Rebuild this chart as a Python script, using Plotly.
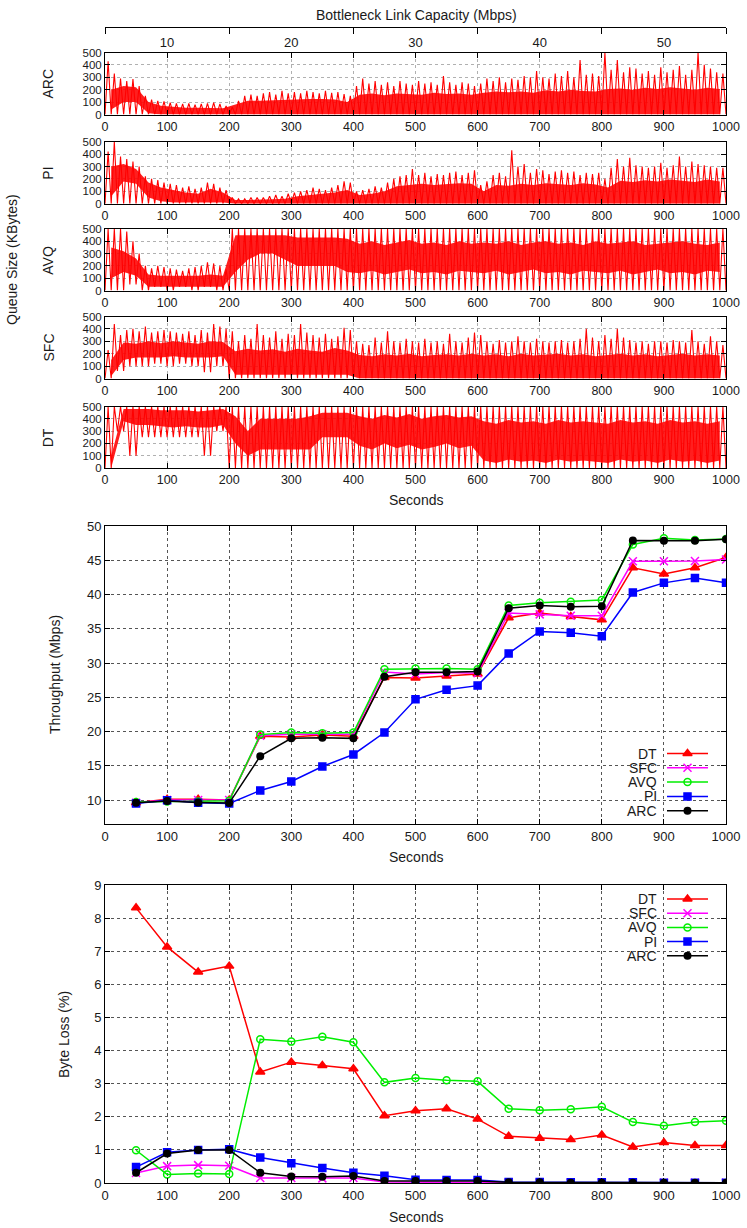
import numpy as np
import plotly.graph_objects as go

# ---------------- data ----------------
seconds = [50, 100, 150, 200, 250, 300, 350, 400, 450, 500,
           550, 600, 650, 700, 750, 800, 850, 900, 950, 1000]

thr_DT  = [9.6, 10.1, 10.1, 10.0, 19.3, 19.2, 19.5, 19.3, 27.9, 27.8, 28.1, 28.4, 36.6, 37.3, 36.8, 36.3, 43.9, 43.0, 43.9, 45.4]
thr_SFC = [9.6, 10.0, 10.0, 10.0, 19.4, 19.6, 19.6, 19.6, 28.7, 28.4, 28.6, 28.5, 37.3, 37.1, 36.9, 36.9, 44.85, 44.85, 44.9, 45.1]
thr_AVQ = [9.7, 9.8, 9.8, 9.9, 19.55, 19.85, 19.75, 19.85, 29.1, 29.2, 29.2, 29.1, 38.4, 38.8, 38.95, 39.2, 47.3, 48.2, 47.95, 48.1]
thr_PI  = [9.5, 9.95, 9.6, 9.5, 11.4, 12.7, 14.9, 16.65, 19.85, 24.7, 26.1, 26.7, 31.4, 34.6, 34.4, 33.9, 40.3, 41.7, 42.4, 41.7]
thr_ARC = [9.6, 9.85, 9.65, 9.55, 16.4, 19.0, 19.1, 19.0, 28.0, 28.65, 28.65, 28.75, 38.0, 38.4, 38.2, 38.3, 47.9, 47.85, 47.85, 48.05]

loss_DT  = [8.31, 7.13, 6.37, 6.55, 3.35, 3.65, 3.55, 3.45, 2.03, 2.18, 2.24, 1.93, 1.41, 1.35, 1.31, 1.45, 1.09, 1.22, 1.13, 1.13]
loss_SFC = [0.30, 0.51, 0.54, 0.52, 0.15, 0.15, 0.14, 0.15, 0.03, 0.02, 0.02, 0.02, 0.01, 0.01, 0.01, 0.01, 0.01, 0.01, 0.01, 0.01]
loss_AVQ = [0.99, 0.26, 0.29, 0.27, 4.34, 4.27, 4.42, 4.25, 3.04, 3.17, 3.10, 3.07, 2.24, 2.20, 2.23, 2.30, 1.84, 1.73, 1.84, 1.88]
loss_PI  = [0.48, 0.93, 1.00, 1.02, 0.77, 0.60, 0.45, 0.31, 0.22, 0.10, 0.09, 0.09, 0.03, 0.03, 0.02, 0.02, 0.02, 0.01, 0.01, 0.01]
loss_ARC = [0.31, 0.89, 1.00, 1.00, 0.31, 0.20, 0.19, 0.21, 0.06, 0.06, 0.06, 0.06, 0.02, 0.02, 0.01, 0.01, 0.01, 0.01, 0.01, 0.01]

capacity_labels = ['10', '20', '30', '40', '50']
capacity_centers = [100, 300, 500, 700, 900]
capacity_bounds = [0, 200, 400, 600, 800, 1000]

# Queue traces (KBytes), read per time bin:
#  *_pk : spike tops per 10 s bin (100 values)
#  *_lo / *_hi : dense band bottom / top per 20 s bin (50 values)
#  *_dn : spike bottoms per 20 s bin (50 values)
ARC_pk = [430, 330, 290, 270, 285, 230, 150, 120, 110, 105,
          95, 90, 85, 90, 80, 85, 90, 95, 85, 70,
          60, 110, 150, 160, 150, 170, 180, 160, 190, 170,
          180, 170, 190, 180, 170, 190, 175, 180, 165, 150,
          230, 290, 250, 270, 240, 260, 230, 270, 250, 240,
          270, 250, 260, 240, 310, 260, 240, 260, 250, 230,
          250, 290, 270, 300, 260, 290, 280, 310, 300, 350,
          300, 290, 330, 310, 350, 300, 440, 320, 330, 310,
          500, 360, 440, 340, 380, 370, 330, 350, 320, 380,
          340, 360, 390, 320, 360, 500, 400, 370, 340, 330]
ARC_lo = [40, 100, 100, 10, 0, 0, 0, 0, 0, 0,
          0, 0, 0, 0, 0, 0, 0, 0, 0, 0,
          0, 0, 0, 0, 0, 0, 0, 0, 0, 0,
          0, 0, 0, 0, 0, 0, 0, 0, 0, 0,
          0, 0, 0, 0, 0, 0, 0, 0, 0, 0]
ARC_hi = [200, 230, 220, 100, 70, 60, 55, 55, 55, 50,
          80, 110, 110, 115, 120, 120, 125, 125, 120, 100,
          160, 170, 155, 170, 165, 160, 175, 165, 170, 160,
          175, 185, 180, 185, 175, 195, 185, 200, 190, 185,
          205, 210, 200, 215, 205, 220, 210, 200, 215, 205]
ARC_dn = [0, 0, 0, 0, 0, 0, 0, 0, 0, 0,
          0, 0, 0, 0, 0, 0, 0, 0, 0, 0,
          0, 0, 0, 0, 0, 0, 0, 0, 0, 0,
          0, 0, 0, 0, 0, 0, 0, 0, 0, 0,
          0, 0, 0, 0, 0, 0, 0, 0, 0, 0]

PI_pk = [420, 500, 380, 360, 340, 300, 220, 200, 190, 170,
         160, 150, 130, 140, 120, 130, 170, 160, 130, 110,
         50, 40, 40, 50, 50, 50, 60, 70, 60, 80,
         90, 100, 110, 130, 120, 110, 130, 150, 180, 170,
         100, 110, 120, 140, 130, 170, 200, 220, 230, 280,
         230, 250, 220, 240, 230, 250, 260, 230, 250, 270,
         150, 180, 230, 250, 220, 430, 300, 320, 250, 280,
         270, 240, 260, 270, 250, 260, 230, 250, 240, 250,
         200, 290, 360, 300, 370, 310, 300, 290, 300, 330,
         290, 310, 380, 300, 340, 320, 310, 300, 290, 290]
PI_lo = [60, 180, 160, 50, 20, 10, 10, 10, 10, 10,
         0, 0, 0, 0, 0, 0, 0, 0, 0, 0,
         0, 0, 0, 0, 0, 0, 0, 0, 0, 0,
         0, 0, 0, 0, 0, 0, 0, 0, 0, 0,
         0, 0, 0, 0, 0, 0, 0, 0, 0, 0]
PI_hi = [300, 320, 280, 170, 130, 110, 90, 80, 120, 90,
         30, 30, 30, 35, 40, 60, 70, 80, 90, 110,
         70, 80, 100, 140, 150, 160, 150, 155, 165, 160,
         100, 150, 145, 160, 150, 165, 160, 150, 165, 155,
         130, 185, 175, 190, 180, 195, 185, 175, 195, 180]
PI_dn = [0, 0, 0, 0, 0, 0, 0, 0, 0, 0,
         0, 0, 0, 0, 0, 0, 0, 0, 0, 0,
         0, 0, 0, 0, 0, 0, 0, 0, 0, 0,
         0, 0, 0, 0, 0, 0, 0, 0, 0, 0,
         0, 0, 0, 0, 0, 0, 0, 0, 0, 0]

AVQ_pk = [500, 500, 500, 480, 400, 300, 200, 180, 200, 190,
          180, 170, 160, 180, 190, 200, 230, 220, 200, 170,
          500, 500, 500, 500, 500, 500, 500, 500, 500, 500,
          500, 500, 500, 500, 500, 500, 500, 500, 500, 500,
          500, 500, 500, 500, 500, 500, 500, 500, 500, 500,
          500, 500, 500, 500, 500, 500, 500, 500, 500, 500,
          500, 500, 500, 500, 500, 500, 500, 500, 500, 500,
          500, 500, 500, 500, 500, 500, 500, 500, 500, 500,
          500, 500, 500, 500, 500, 500, 500, 500, 500, 500,
          500, 500, 500, 500, 500, 500, 500, 500, 500, 500]
AVQ_lo = [100, 150, 120, 30, 30, 30, 30, 30, 30, 30,
          150, 250, 300, 300, 250, 200, 200, 200, 200, 150,
          140, 160, 130, 150, 170, 140, 150, 130, 160, 150,
          140, 160, 130, 150, 170, 140, 150, 130, 160, 150,
          140, 160, 130, 150, 170, 140, 150, 130, 160, 150]
AVQ_hi = [350, 320, 260, 130, 120, 120, 120, 120, 130, 120,
          450, 450, 450, 450, 450, 430, 430, 430, 430, 420,
          380, 400, 370, 390, 410, 380, 390, 370, 400, 380,
          390, 380, 400, 370, 390, 400, 380, 390, 370, 400,
          380, 390, 400, 370, 380, 390, 400, 380, 370, 390]
AVQ_dn = [0, 0, 50, 0, 30, 0, 30, 0, 30, 0,
          0, 0, 0, 0, 0, 0, 0, 0, 0, 0,
          0, 0, 0, 0, 0, 0, 0, 0, 0, 0,
          0, 0, 0, 0, 0, 0, 0, 0, 0, 0,
          0, 0, 0, 0, 0, 0, 0, 0, 0, 0]

SFC_pk = [230, 440, 350, 390, 400, 380, 420, 370, 380, 390,
          380, 370, 360, 380, 350, 390, 370, 440, 420, 400,
          380, 300, 350, 320, 440, 350, 330, 380, 320, 360,
          350, 440, 370, 350, 330, 360, 320, 340, 410, 390,
          300, 280, 270, 330, 290, 380, 300, 290, 320, 300,
          290, 320, 290, 300, 280, 360, 300, 290, 330, 370,
          350, 300, 280, 310, 290, 300, 340, 300, 290, 320,
          300, 290, 300, 310, 290, 300, 320, 400, 330, 300,
          350, 320, 400, 330, 310, 290, 300, 280, 300, 300,
          290, 310, 300, 290, 390, 300, 280, 340, 300, 270]
SFC_lo = [20, 150, 170, 170, 170, 180, 170, 170, 170, 180,
          30, 30, 30, 30, 30, 30, 30, 30, 30, 30,
          0, 0, 0, 0, 0, 0, 0, 0, 0, 0,
          0, 0, 0, 0, 0, 0, 0, 0, 0, 0,
          0, 0, 0, 0, 0, 0, 0, 0, 0, 0]
SFC_hi = [150, 290, 280, 300, 285, 300, 290, 280, 300, 295,
          220, 240, 225, 235, 215, 240, 225, 215, 245, 225,
          190, 180, 195, 185, 200, 180, 190, 195, 185, 200,
          185, 195, 180, 200, 185, 190, 200, 185, 195, 180,
          190, 200, 185, 195, 180, 190, 200, 185, 195, 185]
SFC_dn = [0, 60, 100, 100, 120, 100, 120, 100, 50, 100,
          0, 0, 0, 0, 0, 0, 0, 0, 0, 0,
          0, 0, 0, 0, 0, 0, 0, 0, 0, 0,
          0, 0, 0, 0, 0, 0, 0, 0, 0, 0,
          0, 0, 0, 0, 0, 0, 0, 0, 0, 0]

DT_pk = [500, 500, 500, 500, 500, 500, 500, 500, 500, 500,
         500, 500, 500, 500, 500, 500, 500, 500, 500, 500,
         500, 500, 500, 500, 500, 500, 500, 500, 500, 500,
         500, 500, 500, 500, 500, 500, 500, 500, 500, 500,
         500, 500, 500, 500, 500, 500, 500, 500, 500, 500,
         500, 500, 500, 500, 500, 500, 500, 500, 500, 500,
         500, 500, 500, 500, 500, 500, 500, 500, 500, 500,
         500, 500, 500, 500, 500, 500, 500, 500, 500, 500,
         500, 500, 500, 500, 500, 500, 500, 500, 500, 500,
         500, 500, 500, 500, 500, 500, 500, 500, 500, 500]
DT_lo = [0, 380, 350, 350, 340, 330, 340, 330, 330, 350,
         200, 100, 150, 150, 150, 150, 150, 250, 250, 250,
         180, 150, 200, 160, 190, 150, 170, 200, 160, 180,
         60, 40, 70, 50, 60, 40, 70, 50, 60, 50,
         40, 70, 50, 60, 40, 70, 50, 60, 40, 60]
DT_hi = [100, 480, 480, 480, 470, 470, 470, 460, 470, 480,
         420, 300, 400, 400, 400, 400, 420, 450, 450, 450,
         420, 400, 430, 410, 440, 400, 420, 430, 410, 420,
         380, 360, 390, 370, 380, 360, 390, 370, 380, 370,
         360, 390, 370, 380, 360, 390, 370, 380, 360, 380]
DT_dn = [0, 300, 100, 250, 250, 250, 250, 250, 100, 300,
         0, 0, 0, 0, 0, 0, 0, 0, 0, 0,
         0, 0, 0, 0, 0, 0, 0, 0, 0, 0,
         0, 0, 0, 0, 0, 0, 0, 0, 0, 0,
         0, 0, 0, 0, 0, 0, 0, 0, 0, 0]

queue_names = ['ARC', 'PI', 'AVQ', 'SFC', 'DT']
queue_data = {
    'ARC': (ARC_lo, ARC_hi, ARC_dn, ARC_pk),
    'PI': (PI_lo, PI_hi, PI_dn, PI_pk),
    'AVQ': (AVQ_lo, AVQ_hi, AVQ_dn, AVQ_pk),
    'SFC': (SFC_lo, SFC_hi, SFC_dn, SFC_pk),
    'DT': (DT_lo, DT_hi, DT_dn, DT_pk),
}

series = [
    ('DT', thr_DT, loss_DT, '#ff0000', 'triangle-up', 8),
    ('SFC', thr_SFC, loss_SFC, '#ff00ff', 'x-thin-open', 8),
    ('AVQ', thr_AVQ, loss_AVQ, '#00ee00', 'circle-open', 7),
    ('PI', thr_PI, loss_PI, '#0000ff', 'square', 7),
    ('ARC', thr_ARC, loss_ARC, '#000000', 'circle', 6.5),
]

# ---------------- layout helpers ----------------
W, H = 747, 1228
def fx(px):
    return px / W
def fy(py):
    return 1 - py / H

X0, X1 = 105, 726
XDOM = [fx(X0), fx(X1)]
panel_px = [(52.5, 114.5), (141.7, 203.7), (229, 290.5), (316.5, 378.5), (406.5, 468)]
THR_PX = (526, 824)
LOSS_PX = (885, 1183)

FONT = 'Liberation Sans, Arial, Helvetica, sans-serif'
TXT = '#1a1a1a'
RED = '#ff0000'

fig = go.Figure()

band_x = [20 * j + 10 for j in range(50)]

def zigzag(dn, pk):
    xs, ys = [], []
    for i, p in enumerate(pk):
        xs += [10 * i, 10 * i + 5]
        ys += [dn[i // 2], p]
    xs.append(1000)
    ys.append(dn[-1])
    return xs, ys

axis_base = dict(showline=True, linecolor='black', linewidth=1, mirror='ticks',
                 ticks='inside', ticklen=5, tickcolor='black', zeroline=False,
                 automargin=False,
                 tickfont=dict(family=FONT, size=13, color=TXT))

layout_axes = {}
for k, name in enumerate(queue_names):
    suf = '' if k == 0 else str(k + 1)
    xa, ya = 'x' + suf, 'y' + suf
    lo, hi, dn, pk = queue_data[name]
    fig.add_trace(go.Scatter(x=band_x, y=lo, xaxis=xa, yaxis=ya, mode='lines',
                             line=dict(width=0, color=RED), showlegend=False, hoverinfo='skip'))
    fig.add_trace(go.Scatter(x=band_x, y=hi, xaxis=xa, yaxis=ya, mode='lines',
                             line=dict(width=0, color=RED), fill='tonexty',
                             fillcolor='rgba(255,0,0,0.88)', showlegend=False, hoverinfo='skip'))
    zx, zy = zigzag(dn, pk)
    fig.add_trace(go.Scatter(x=zx, y=zy, xaxis=xa, yaxis=ya, mode='lines',
                             line=dict(width=1.1, color=RED), showlegend=False, hoverinfo='skip'))
    top, bot = panel_px[k]
    layout_axes['xaxis' + suf] = dict(axis_base, domain=XDOM, anchor=ya, range=[0, 1000],
                                      tickvals=list(range(0, 1001, 100)),
                                      tickfont=dict(family=FONT, size=12.5, color=TXT),
                                      showgrid=True, gridcolor='#b0b0b0', griddash='dot')
    layout_axes['yaxis' + suf] = dict(axis_base, domain=[fy(bot), fy(top)], anchor=xa,
                                      range=[0, 500], tickvals=list(range(0, 501, 100)),
                                      tickfont=dict(family=FONT, size=11.5, color=TXT),
                                      showgrid=True, gridcolor='#b0b0b0', griddash='dot')

# throughput (x6/y6) and loss (x7/y7)
for name, thr, loss, col, sym, sz in series:
    mk = dict(symbol=sym, size=sz, color=col, line=dict(color=col, width=1.5))
    fig.add_trace(go.Scatter(x=seconds, y=thr, xaxis='x6', yaxis='y6', mode='lines+markers',
                             line=dict(color=col, width=1.5), marker=mk, showlegend=False))
    fig.add_trace(go.Scatter(x=seconds, y=loss, xaxis='x7', yaxis='y7', mode='lines+markers',
                             line=dict(color=col, width=1.5), marker=mk, showlegend=False))

grid_mid = dict(showgrid=True, gridcolor='#555555', griddash='dot', gridwidth=1)
layout_axes['xaxis6'] = dict(axis_base, **grid_mid, domain=XDOM, anchor='y6', range=[0, 1000],
                             tickvals=list(range(0, 1001, 100)))
layout_axes['yaxis6'] = dict(axis_base, **grid_mid, domain=[fy(THR_PX[1]), fy(THR_PX[0])], anchor='x6',
                             range=[6.5, 50], tickvals=list(range(10, 51, 5)))
layout_axes['xaxis7'] = dict(axis_base, **grid_mid, domain=XDOM, anchor='y7', range=[0, 1000],
                             tickvals=list(range(0, 1001, 100)))
layout_axes['yaxis7'] = dict(axis_base, **grid_mid, domain=[fy(LOSS_PX[1]), fy(LOSS_PX[0])], anchor='x7',
                             range=[0, 9], tickvals=list(range(0, 10, 1)))

# top capacity axis
layout_axes['xaxis8'] = dict(overlaying='x', anchor='free', position=fy(27), side='bottom',
                             domain=XDOM, range=[0, 1000], showline=True, linecolor='black',
                             linewidth=1, tickvals=capacity_centers, ticktext=capacity_labels,
                             ticks='', showgrid=False, zeroline=False, ticklabelstandoff=3,
                             automargin=False,
                             tickfont=dict(family=FONT, size=13, color=TXT),
                             minor=dict(tickvals=capacity_bounds, ticks='outside', ticklen=6,
                                        tickcolor='black', showgrid=False))
fig.add_trace(go.Scatter(x=[0, 1000], y=[0, 0], xaxis='x8', yaxis='y', mode='lines',
                         line=dict(width=0), showlegend=False, hoverinfo='skip', opacity=0))

# overlay (pixel space) for the key samples
layout_axes['xaxis9'] = dict(domain=[0, 1], anchor='y9', range=[0, W], visible=False,
                             fixedrange=True, automargin=False)
layout_axes['yaxis9'] = dict(domain=[0, 1], anchor='x9', range=[H, 0], visible=False,
                             fixedrange=True, automargin=False)

annotations = []
def key(rows_y):
    for (name, thr, loss, col, sym, sz), ry in zip(series, rows_y):
        fig.add_trace(go.Scatter(x=[667, 708], y=[ry, ry], xaxis='x9', yaxis='y9', mode='lines',
                                 line=dict(color=col, width=1.5), showlegend=False, hoverinfo='skip'))
        fig.add_trace(go.Scatter(x=[687.5], y=[ry], xaxis='x9', yaxis='y9', mode='markers',
                                 marker=dict(symbol=sym, size=sz, color=col, line=dict(color=col, width=1.5)),
                                 showlegend=False, hoverinfo='skip'))
        annotations.append(dict(text=name, x=fx(659), y=fy(ry), xref='paper', yref='paper',
                                xanchor='right', yanchor='middle', showarrow=False,
                                font=dict(family=FONT, size=14, color=TXT)))

key([753.5, 767.8, 782.1, 796.4, 810.7])
key([899, 913.2, 927.4, 941.6, 955.8])

def ann(text, x, y, angle=0, size=14):
    annotations.append(dict(text=text, x=fx(x), y=fy(y), xref='paper', yref='paper',
                            xanchor='center', yanchor='middle', showarrow=False, textangle=angle,
                            font=dict(family=FONT, size=size, color=TXT)))

ann('Bottleneck Link Capacity (Mbps)', 417, 15)
ann('Queue Size (KBytes)', 12, 260, -90)
for k, name in enumerate(queue_names):
    top, bot = panel_px[k]
    ann(name, 48, (top + bot) / 2, -90)
ann('Seconds', 415.5, 500)
ann('Seconds', 415.5, 857)
ann('Seconds', 415.5, 1217)
ann('Throughput (Mbps)', 55, 675, -90)
ann('Byte Loss (%)', 64, 1035, -90)

fig.update_layout(width=W, height=H, margin=dict(l=0, r=0, t=0, b=0, autoexpand=False),
                  paper_bgcolor='white', plot_bgcolor='rgba(0,0,0,0)',
                  showlegend=False, annotations=annotations,
                  font=dict(family=FONT, color=TXT), **layout_axes)

fig.write_html('out.html')
